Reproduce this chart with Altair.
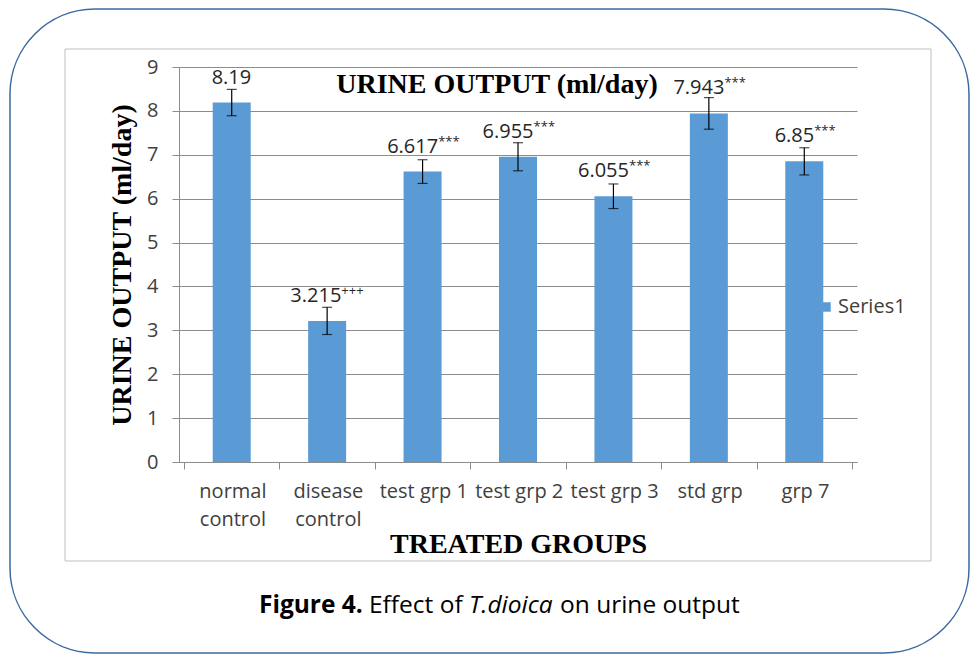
import json
import altair as alt
import pandas as pd

# ---------------- data ----------------
categories = ["normal control", "disease control", "test grp 1", "test grp 2",
              "test grp 3", "std grp", "grp 7"]
label_lines = [["normal", "control"], ["disease", "control"], ["test grp 1"],
               ["test grp 2"], ["test grp 3"], ["std grp"], ["grp 7"]]
values = [8.19, 3.215, 6.617, 6.955, 6.055, 7.943, 6.85]
errors = [0.30, 0.31, 0.27, 0.32, 0.28, 0.36, 0.31]
value_text = ["8.19", "3.215", "6.617", "6.955", "6.055", "7.943", "6.85"]
significance = ["", "+++", "***", "***", "***", "***", "***"]
series_name = ["Series1"] * 7

# ---------------- layout / style ----------------
W, H = 678, 395
STEP = W / 7
BLUE = "#5b9bd5"
SANS = "Open Sans"
SERIF = "Liberation Serif"
NUM_SIZE, SUP_SIZE = 20, 13
CHAR_W = {".": 0.266, "*": 0.5, "+": 0.572}
XTITLE = "TREATED GROUPS"


def text_w(s, size):
    return sum(CHAR_W.get(c, 0.572) for c in s) * size


idx = list(range(len(categories)))
anchor = []
for i, n, s in zip(idx, value_text, significance):
    nw = text_w(n, NUM_SIZE)
    sw = text_w(s, SUP_SIZE)
    anchor.append(i + (nw - sw) / 2 / STEP)

df = pd.DataFrame({
    "idx": idx,
    "category": categories,
    "value": values,
    "lo": [v - e for v, e in zip(values, errors)],
    "hi": [v + e for v, e in zip(values, errors)],
    "num": value_text,
    "sup": significance,
    "anchor": anchor,
    "series": series_name,
})

xscale = alt.Scale(domain=[-0.5, 6.5], nice=False, zero=False)
yscale = alt.Scale(domain=[0, 9], nice=False)
YTITLE = "URINE OUTPUT (ml/day)"

label_expr = "(" + json.dumps(label_lines) + ")[datum.value + 0.5] || ''"

base = alt.Chart(df)

bars = base.mark_bar(size=38).encode(
    x=alt.X("idx:Q", scale=xscale, title=XTITLE, axis=alt.Axis(
        values=[i - 0.5 for i in range(8)], labelExpr=label_expr,
        labelOffset=STEP / 2, labelFlush=False, labelOverlap=False, labelBound=False,
        grid=False, tickSize=7, tickColor="#8c8c8c", domainColor="#8c8c8c",
        labelFont=SANS, labelFontSize=20, labelColor="#404040", labelPadding=12,
        labelLineHeight=28, labelBaseline="top",
        titleFont=SERIF, titleFontSize=28,
        titleFontWeight="bold", titleColor="black", titlePadding=1)),
    y=alt.Y("value:Q", scale=yscale, title=YTITLE, axis=alt.Axis(
        values=list(range(10)), grid=True, gridColor="#8c8c8c", tickSize=7,
        tickColor="#8c8c8c", domainColor="#8c8c8c", labelFont=SANS,
        labelFontSize=20, labelColor="#404040", labelPadding=14,
        titleFont=SERIF, titleFontSize=28,
        titleFontWeight="bold", titleColor="black", titlePadding=10)),
    color=alt.Color("series:N", scale=alt.Scale(range=[BLUE]), legend=alt.Legend(
        orient="none", legendX=637, legendY=230, title=None, symbolType="square",
        symbolSize=90, symbolStrokeWidth=0, labelFont=SANS, labelFontSize=20,
        labelColor="#404040", labelOffset=2, padding=0)),
)

err = base.mark_rule(color="black", strokeWidth=1.2).encode(
    x=alt.X("idx:Q", scale=xscale, title=XTITLE),
    y=alt.Y("lo:Q", scale=yscale, title=YTITLE),
    y2="hi:Q",
)
cap_lo = base.mark_tick(color="black", orient="horizontal", size=10, thickness=1.2).encode(
    x=alt.X("idx:Q", scale=xscale, title=XTITLE),
    y=alt.Y("lo:Q", scale=yscale, title=YTITLE),
)
cap_hi = base.mark_tick(color="black", orient="horizontal", size=10, thickness=1.2).encode(
    x=alt.X("idx:Q", scale=xscale, title=XTITLE),
    y=alt.Y("hi:Q", scale=yscale, title=YTITLE),
)

num_text = base.mark_text(align="right", baseline="alphabetic", dy=-19,
                          font=SANS, fontSize=NUM_SIZE, color="#262626").encode(
    x=alt.X("anchor:Q", scale=xscale, title=XTITLE),
    y=alt.Y("value:Q", scale=yscale, title=YTITLE),
    text="num:N",
)
sup_text = base.mark_text(align="left", baseline="alphabetic", dy=-26,
                          font=SANS, fontSize=SUP_SIZE, color="#262626").encode(
    x=alt.X("anchor:Q", scale=xscale, title=XTITLE),
    y=alt.Y("value:Q", scale=yscale, title=YTITLE),
    text="sup:N",
)

one = pd.DataFrame({"k": [0]})
outer = alt.Chart(one).mark_rect(fillOpacity=0, stroke="#3b6aa0", strokeWidth=1.5,
                                 cornerRadius=85).encode(
    x=alt.value(-169), x2=alt.value(790), y=alt.value(-58), y2=alt.value(586))
inner = alt.Chart(one).mark_rect(fillOpacity=0, stroke="#bfbfbf", strokeWidth=1).encode(
    x=alt.value(-114), x2=alt.value(752), y=alt.value(-18), y2=alt.value(494))

title = alt.Chart(one).mark_text(font=SERIF, fontSize=28, fontWeight="bold",
                                 align="center", baseline="alphabetic", color="black").encode(
    x=alt.value(318), y=alt.value(26), text=alt.value(YTITLE))

cap_parts = [
    ("Figure 4.", 80, "bold", "normal"),
    ("Effect of", 190, "normal", "normal"),
    ("T.dioica", 290, "normal", "italic"),
    ("on urine output", 381, "normal", "normal"),
]
caption_layers = []
for txt, xx, fw, fs in cap_parts:
    caption_layers.append(
        alt.Chart(one).mark_text(font=SANS, fontSize=24.5, fontWeight=fw, fontStyle=fs,
                                 align="left", baseline="alphabetic", color="black").encode(
            x=alt.value(xx), y=alt.value(546), text=alt.value(txt)))

chart = alt.layer(outer, inner, bars, err, cap_lo, cap_hi, num_text, sup_text, title,
                  *caption_layers).properties(
    width=W, height=H,
    autosize=alt.AutoSizeParams(type="none"),
    padding={"left": 171, "top": 59, "right": 113, "bottom": 194},
    background="white",
).configure_view(strokeWidth=0)

chart.save("out.html", embed_options={"renderer": "svg", "actions": False})
